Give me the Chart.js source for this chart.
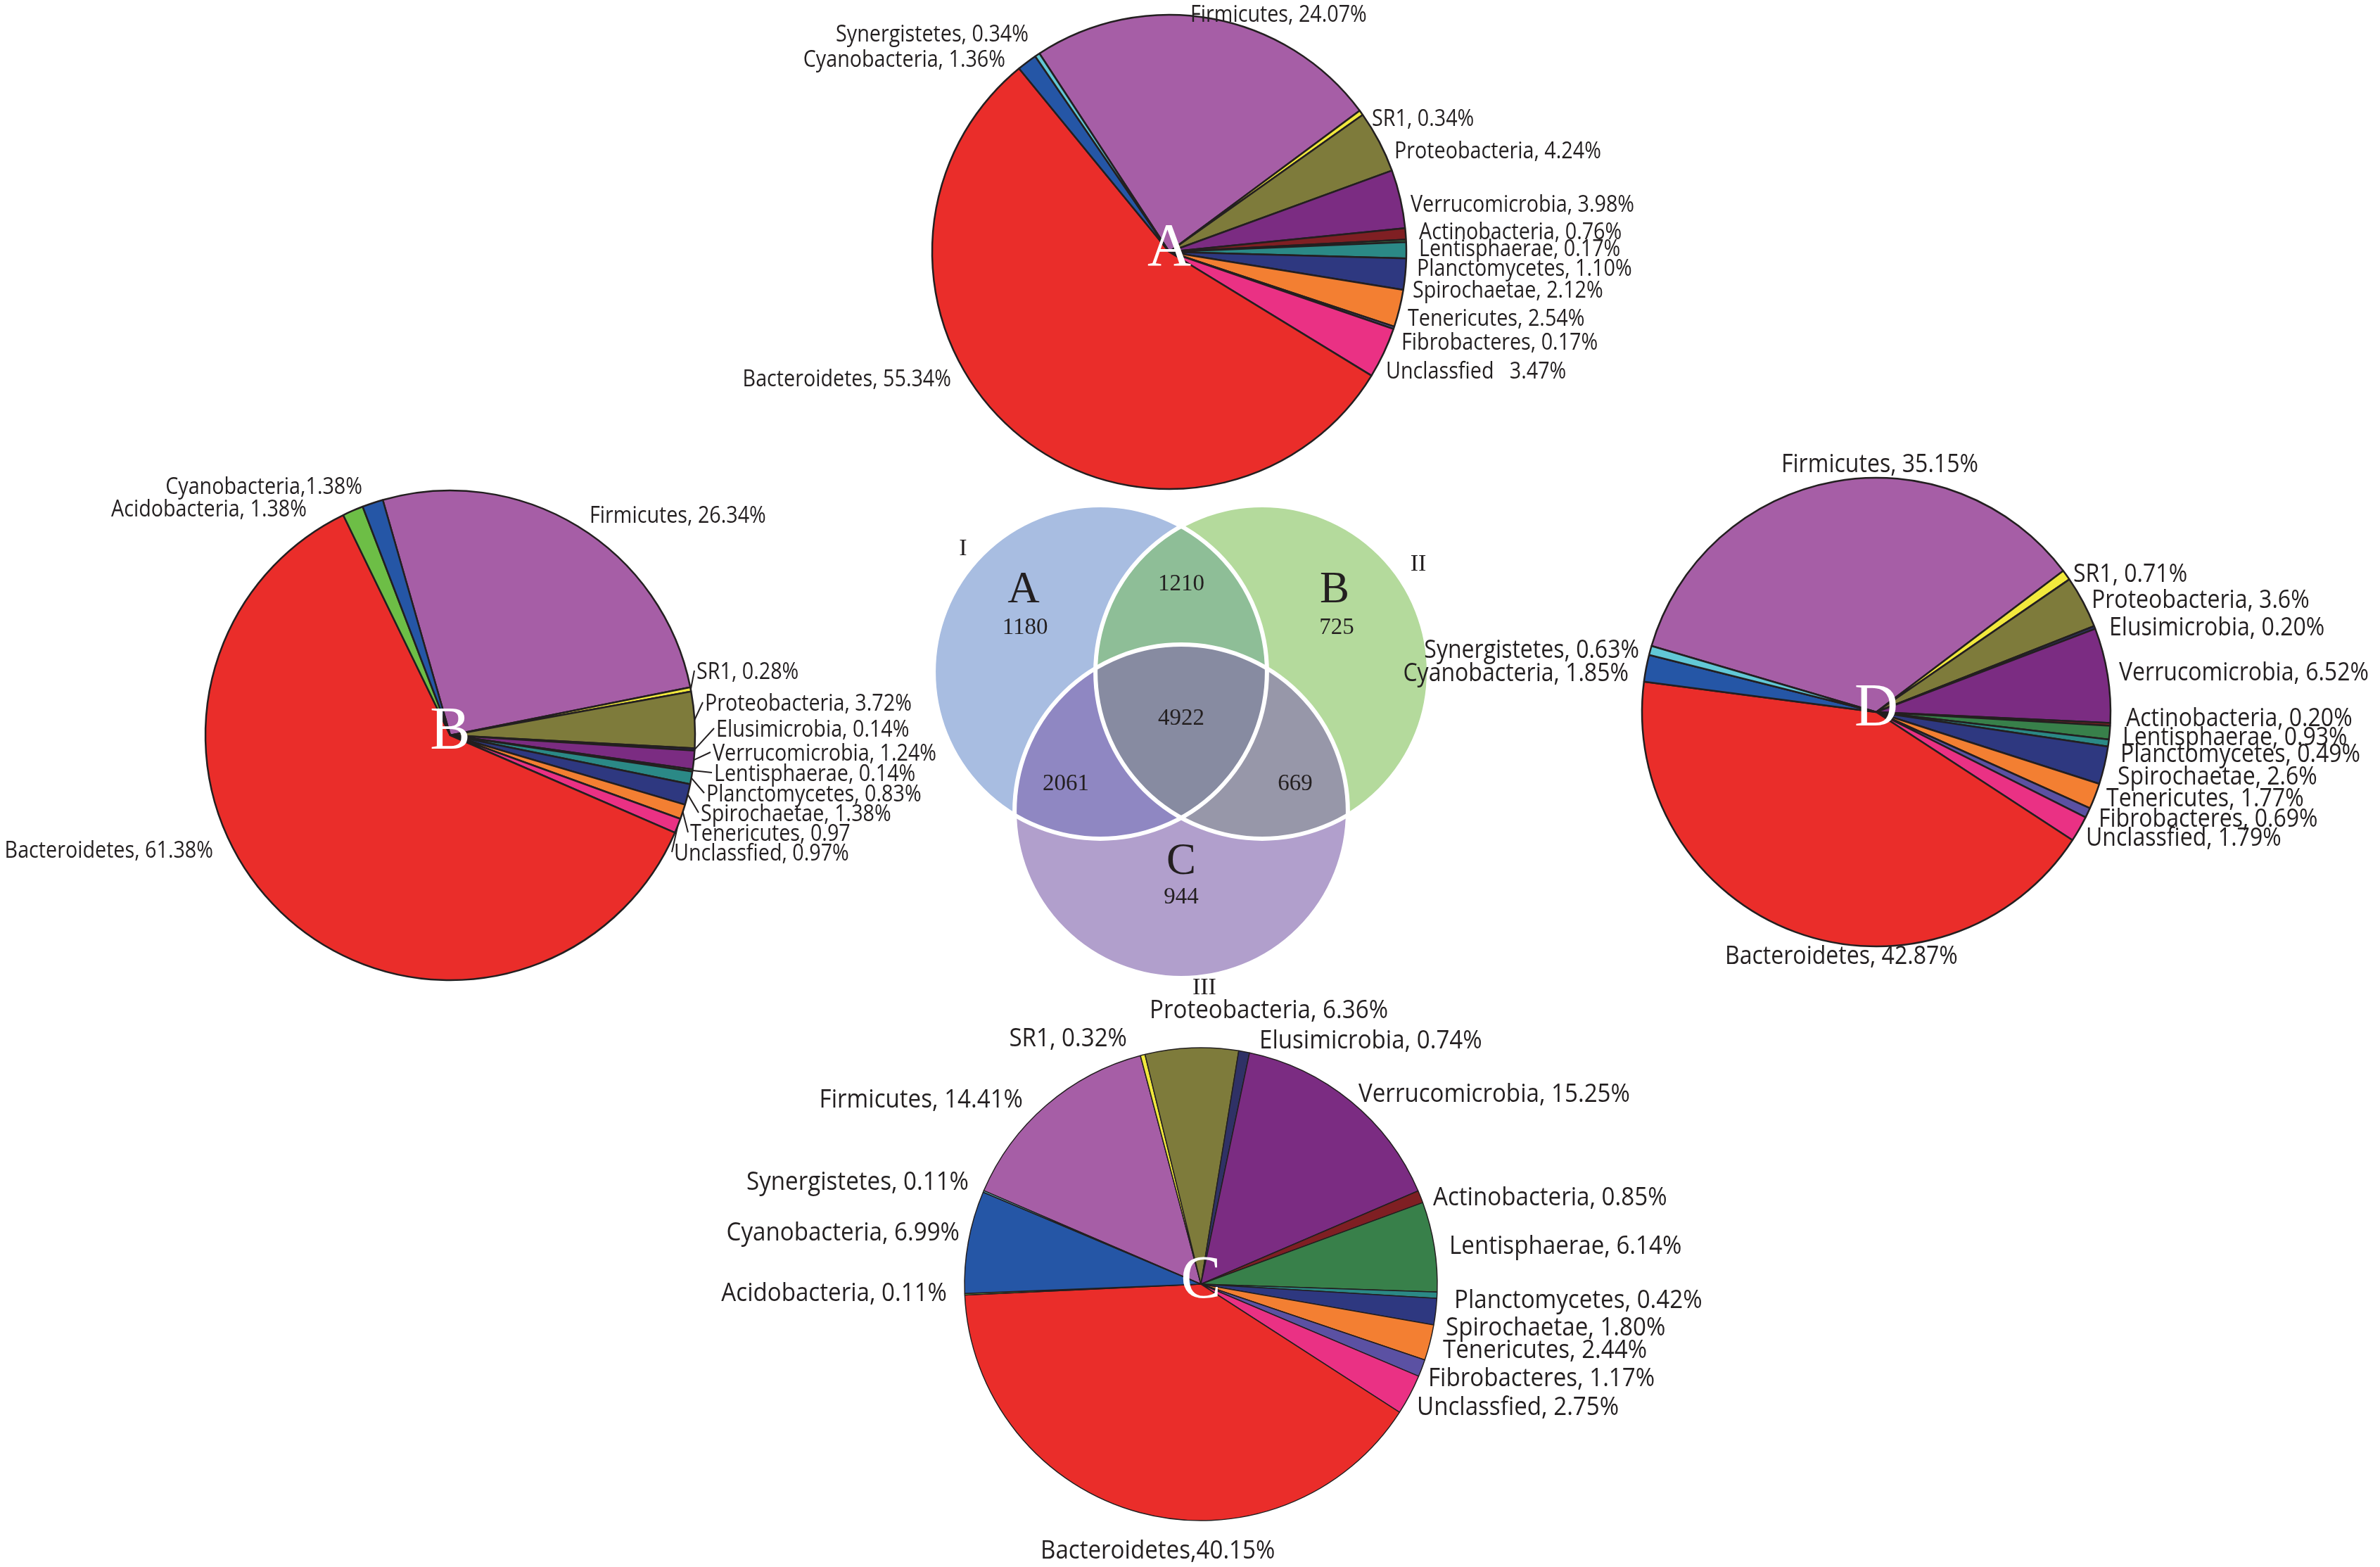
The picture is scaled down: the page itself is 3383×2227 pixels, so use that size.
<!DOCTYPE html>
<html lang="en">
<head>
    <meta charset="UTF-8" />
    <title>Phylum composition of samples A-D and shared OTUs</title>
    <script src="https://cdn.jsdelivr.net/npm/chart.js"></script>
    <style>
        body {
          margin: 0;
          background: #ffffff;
        }

        #figure {
          position: relative;
          width: 3383px;
          height: 2227px;
          overflow: hidden;
          background: #ffffff;
        }

        #figure canvas {
          position: absolute;
        }
    </style>
</head>
<body>

<div id="figure">
    <canvas id="venn"></canvas>
    <canvas id="pieA"></canvas>
    <canvas id="pieB"></canvas>
    <canvas id="pieC"></canvas>
    <canvas id="pieD"></canvas>
</div>

<script>
    // ---------- data ----------
    const phyla = ['Firmicutes', 'SR1', 'Proteobacteria', 'Elusimicrobia', 'Verrucomicrobia', 'Actinobacteria',
      'Lentisphaerae', 'Planctomycetes', 'Spirochaetae', 'Tenericutes', 'Fibrobacteres', 'Unclassified',
      'Bacteroidetes', 'Acidobacteria', 'Cyanobacteria', 'Synergistetes'];
    const phylumColors = ['#a65ea6', '#f2e93d', '#7e7b3b', '#2f3166', '#7b2c82', '#7f1f23',
      '#38804a', '#2b8986', '#2e3880', '#f37f32', '#5b51a3', '#ea3184',
      '#ea2d2a', '#6dbe46', '#2556a6', '#62c8d6'];

    // sample A
    const namesA = ['Firmicutes', 'SR1', 'Proteobacteria', 'Verrucomicrobia', 'Actinobacteria', 'Lentisphaerae',
      'Planctomycetes', 'Spirochaetae', 'Tenericutes', 'Fibrobacteres', 'Unclassified', 'Bacteroidetes',
      'Cyanobacteria', 'Synergistetes'];
    const valuesA = [24.07, 0.34, 4.24, 3.98, 0.76, 0.17, 1.10, 2.12, 2.54, 0.17, 3.47, 55.34, 1.36, 0.34];
    const textA = ['Firmicutes, 24.07%', 'SR1, 0.34%', 'Proteobacteria, 4.24%', 'Verrucomicrobia, 3.98%',
      'Actinobacteria, 0.76%', 'Lentisphaerae, 0.17%', 'Planctomycetes, 1.10%', 'Spirochaetae, 2.12%',
      'Tenericutes, 2.54%', 'Fibrobacteres, 0.17%', 'Unclassfied   3.47%', 'Bacteroidetes, 55.34%',
      'Cyanobacteria, 1.36%', 'Synergistetes, 0.34%'];

    // sample B
    const namesB = ['Firmicutes', 'SR1', 'Proteobacteria', 'Elusimicrobia', 'Verrucomicrobia', 'Lentisphaerae',
      'Planctomycetes', 'Spirochaetae', 'Tenericutes', 'Unclassified', 'Bacteroidetes', 'Acidobacteria',
      'Cyanobacteria'];
    const valuesB = [26.34, 0.28, 3.72, 0.14, 1.24, 0.14, 0.83, 1.38, 0.97, 0.97, 61.38, 1.38, 1.38];
    const textB = ['Firmicutes, 26.34%', 'SR1, 0.28%', 'Proteobacteria, 3.72%', 'Elusimicrobia, 0.14%',
      'Verrucomicrobia, 1.24%', 'Lentisphaerae, 0.14%', 'Planctomycetes, 0.83%', 'Spirochaetae, 1.38%',
      'Tenericutes, 0.97', 'Unclassfied, 0.97%', 'Bacteroidetes, 61.38%', 'Acidobacteria, 1.38%',
      'Cyanobacteria,1.38%'];

    // sample C
    const namesC = ['Firmicutes', 'SR1', 'Proteobacteria', 'Elusimicrobia', 'Verrucomicrobia', 'Actinobacteria',
      'Lentisphaerae', 'Planctomycetes', 'Spirochaetae', 'Tenericutes', 'Fibrobacteres', 'Unclassified',
      'Bacteroidetes', 'Acidobacteria', 'Cyanobacteria', 'Synergistetes'];
    const valuesC = [14.41, 0.32, 6.36, 0.74, 15.25, 0.85, 6.14, 0.42, 1.80, 2.44, 1.17, 2.75, 40.15, 0.11, 6.99, 0.11];
    const textC = ['Firmicutes, 14.41%', 'SR1, 0.32%', 'Proteobacteria, 6.36%', 'Elusimicrobia, 0.74%',
      'Verrucomicrobia, 15.25%', 'Actinobacteria, 0.85%', 'Lentisphaerae, 6.14%', 'Planctomycetes, 0.42%',
      'Spirochaetae, 1.80%', 'Tenericutes, 2.44%', 'Fibrobacteres, 1.17%', 'Unclassfied, 2.75%',
      'Bacteroidetes,40.15%', 'Acidobacteria, 0.11%', 'Cyanobacteria, 6.99%', 'Synergistetes, 0.11%'];

    // sample D
    const namesD = ['Firmicutes', 'SR1', 'Proteobacteria', 'Elusimicrobia', 'Verrucomicrobia', 'Actinobacteria',
      'Lentisphaerae', 'Planctomycetes', 'Spirochaetae', 'Tenericutes', 'Fibrobacteres', 'Unclassified',
      'Bacteroidetes', 'Cyanobacteria', 'Synergistetes'];
    const valuesD = [35.15, 0.71, 3.6, 0.20, 6.52, 0.20, 0.93, 0.49, 2.6, 1.77, 0.69, 1.79, 42.87, 1.85, 0.63];
    const textD = ['Firmicutes, 35.15%', 'SR1, 0.71%', 'Proteobacteria, 3.6%', 'Elusimicrobia, 0.20%',
      'Verrucomicrobia, 6.52%', 'Actinobacteria, 0.20%', 'Lentisphaerae, 0.93%', 'Planctomycetes, 0.49%',
      'Spirochaetae, 2.6%', 'Tenericutes, 1.77%', 'Fibrobacteres, 0.69%', 'Unclassfied, 1.79%',
      'Bacteroidetes, 42.87%', 'Cyanobacteria, 1.85%', 'Synergistetes, 0.63%'];

    // Venn: OTU counts per region
    const vennSets = ['A', 'B', 'C'];
    const vennRoman = ['I', 'II', 'III'];
    const vennRegions = ['A', 'B', 'C', 'AB', 'AC', 'BC', 'ABC'];
    const vennCounts = [1180, 725, 944, 1210, 2061, 669, 4922];

    // ---------- layout (not data) ----------
    // label spots: [dx, dy from pie centre, align, leader line]
    const spotsA = [[30, -336, 'left'], [288, -188, 'left'], [320, -142, 'left'], [343, -66, 'left'],
      [355, -27, 'left'], [355, -3, 'left'], [352, 25, 'left'], [346, 56, 'left'], [339, 96, 'left'],
      [330, 130, 'left'], [308, 171, 'left'], [-310, 182, 'right'], [-233, -272, 'right'], [-200, -308, 'right']];
    const spotsB = [[198, -311, 'left'], [350, -89, 'left', 1], [362, -44, 'left', 1], [378, -7, 'left', 1],
      [373, 27, 'left', 1], [375, 56, 'left', 1], [364, 85, 'left', 1], [356, 113, 'left', 1],
      [341, 141, 'left', 1], [318, 169, 'left', 1], [-337, 165, 'right'], [-204, -320, 'right'], [-125, -352, 'right']];
    const spotsC = [[-253, -261, 'right'], [-105, -348, 'right'], [-73, -388, 'left'], [83, -345, 'left'],
      [224, -269, 'left'], [330, -122, 'left'], [353, -53, 'left'], [360, 24, 'left'], [348, 63, 'left'],
      [344, 95, 'left'], [323, 135, 'left'], [307, 176, 'left'], [-228, 380, 'left'], [-361, 14, 'right'],
      [-343, -72, 'right'], [-330, -144, 'right']];
    const spotsD = [[-135, -351, 'left'], [280, -195, 'left'], [306, -158, 'left'], [331, -119, 'left'],
      [345, -55, 'left'], [355, 10, 'left'], [350, 37, 'left'], [347, 61, 'left'], [343, 93, 'left'],
      [327, 124, 'left'], [316, 153, 'left'], [298, 180, 'left'], [-215, 348, 'left'], [-352, -54, 'right'],
      [-337, -87, 'right']];

    const vennCentres = { x: [-0.5, 0.5, 0], y: [0, 0, -0.861] };
    const vennR = 1.03;
    const vennColors = ['#a8bde1', '#b4da9c', '#b19fcc', '#8ebe97', '#8f87c2', '#9797a9', '#878ba1'];
    const vennCountSpots = [[-0.965, 0.274], [0.961, 0.274], [0, -1.391], [0, 0.543], [-0.713, -0.691], [0.704, -0.691], [0, -0.287]];
    const vennLetterSpots = [[-0.974, 0.504], [0.948, 0.504], [0, -1.174]];
    const vennRomanSpots = [[-1.348, 0.761], [1.465, 0.665], [0.143, -1.952]];

    const INK = '#231f20';
    const PW = 1600, PH = 900;

    function colorOf(name) {
      return phylumColors[phyla.indexOf(name)];
    }

    function stretchedText(ctx, str, x, y, align, font, sx) {
      ctx.save();
      ctx.translate(x, y);
      ctx.scale(sx, 1);
      ctx.font = font;
      ctx.textAlign = align;
      ctx.textBaseline = 'middle';
      ctx.fillText(str, 0, 0);
      ctx.restore();
    }

    // draws the phylum labels, leader lines and the big white letter
    const sliceLabels = {
      id: 'sliceLabels',
      afterDatasetsDraw(chart, args, opts) {
        const ctx = chart.ctx;
        const arcs = chart.getDatasetMeta(0).data;
        const cx = arcs[0].x, cy = arcs[0].y;
        ctx.save();
        ctx.fillStyle = INK;
        ctx.strokeStyle = INK;
        ctx.lineWidth = 2;
        arcs.forEach((arc, i) => {
          const s = opts.spots[i];
          const lx = cx + s[0], ly = cy + s[1];
          if (s[3]) {
            const mid = (arc.startAngle + arc.endAngle) / 2;
            ctx.beginPath();
            ctx.moveTo(cx + arc.outerRadius * Math.cos(mid), cy + arc.outerRadius * Math.sin(mid));
            ctx.lineTo(lx - 3, ly - 3);
            ctx.stroke();
          }
          stretchedText(ctx, opts.texts[i], lx, ly, s[2], opts.font, opts.sx);
        });
        ctx.fillStyle = '#ffffff';
        ctx.font = '86px "Liberation Serif", serif';
        ctx.textAlign = 'center';
        ctx.textBaseline = 'middle';
        ctx.fillText(opts.letter, cx, cy - 4);
        ctx.restore();
      }
    };

    function makePie(id, p) {
      const cv = document.getElementById(id);
      cv.width = PW;
      cv.height = PH;
      cv.style.left = (p.cx - PW / 2) + 'px';
      cv.style.top = (p.cy - PH / 2) + 'px';
      return new Chart(cv, {
        type: 'pie',
        data: {
          labels: p.names,
          datasets: [{
            data: p.values,
            backgroundColor: p.names.map(colorOf),
            borderColor: INK,
            borderWidth: p.border
          }]
        },
        options: {
          responsive: false,
          devicePixelRatio: 1,
          animation: false,
          events: [],
          rotation: p.rotation,
          radius: p.r,
          layout: { padding: 0 },
          plugins: {
            legend: { display: false },
            tooltip: { enabled: false },
            sliceLabels: { spots: p.spots, texts: p.texts, letter: p.letter, font: p.font, sx: p.sx }
          }
        },
        plugins: [sliceLabels]
      });
    }

    const fontAB = '33px "Open Sans", sans-serif';
    const fontCD = '36px "Open Sans", sans-serif';

    makePie('pieA', { cx: 1662, cy: 358, r: 337, rotation: -33.2, border: 2.5, names: namesA, values: valuesA,
      texts: textA, spots: spotsA, letter: 'A', font: fontAB, sx: 0.87 });
    makePie('pieB', { cx: 640, cy: 1045, r: 348, rotation: -16, border: 2.5, names: namesB, values: valuesB,
      texts: textB, spots: spotsB, letter: 'B', font: fontAB, sx: 0.87 });
    makePie('pieC', { cx: 1707, cy: 1825, r: 336, rotation: -66.7, border: 1.5, names: namesC, values: valuesC,
      texts: textC, spots: spotsC, letter: 'C', font: fontCD, sx: 0.92 });
    makePie('pieD', { cx: 2667, cy: 1012, r: 333, rotation: -73.6, border: 2.5, names: namesD, values: valuesD,
      texts: textD, spots: spotsD, letter: 'D', font: fontCD, sx: 0.89 });

    // ---------- Venn diagram ----------
    function circlePx(chart) {
      const sx = chart.scales.x;
      return Math.abs(sx.getPixelForValue(vennR) - sx.getPixelForValue(0));
    }

    const vennPaint = {
      id: 'vennPaint',
      beforeDatasetsDraw(chart) {
        const ctx = chart.ctx;
        const pts = chart.getDatasetMeta(0).data;
        const rad = circlePx(chart);
        vennRegions.forEach((region, k) => {
          ctx.save();
          vennSets.forEach((set, i) => {
            const inside = region.includes(set);
            ctx.beginPath();
            if (!inside) ctx.rect(0, 0, chart.width, chart.height);
            ctx.moveTo(pts[i].x + rad, pts[i].y);
            ctx.arc(pts[i].x, pts[i].y, rad, 0, Math.PI * 2);
            ctx.clip(inside ? 'nonzero' : 'evenodd');
          });
          ctx.fillStyle = vennColors[k];
          ctx.fillRect(0, 0, chart.width, chart.height);
          ctx.restore();
        });
      },
      afterDatasetsDraw(chart) {
        const ctx = chart.ctx;
        const xs = chart.scales.x, ys = chart.scales.y;
        const put = (str, spot, font) => {
          ctx.font = font;
          ctx.fillText(str, xs.getPixelForValue(spot[0]), ys.getPixelForValue(spot[1]));
        };
        ctx.save();
        ctx.fillStyle = INK;
        ctx.textAlign = 'center';
        ctx.textBaseline = 'middle';
        vennCounts.forEach((n, k) => put(String(n), vennCountSpots[k], '33px "Liberation Serif", serif'));
        vennSets.forEach((s, i) => put(s, vennLetterSpots[i], '63px "Liberation Serif", serif'));
        vennRoman.forEach((s, i) => put(s, vennRomanSpots[i], '34px "Liberation Serif", serif'));
        ctx.restore();
      }
    };

    const vc = document.getElementById('venn');
    vc.width = 900;
    vc.height = 800;
    vc.style.left = '1250px';
    vc.style.top = '650px';

    new Chart(vc, {
      type: 'scatter',
      data: {
        labels: vennSets,
        datasets: [{
          data: vennSets.map((s, i) => ({ x: vennCentres.x[i], y: vennCentres.y[i] })),
          pointRadius: (c) => circlePx(c.chart),
          pointHoverRadius: (c) => circlePx(c.chart),
          pointBackgroundColor: 'rgba(0,0,0,0)',
          pointBorderColor: '#ffffff',
          pointBorderWidth: 6,
          clip: false
        }]
      },
      options: {
        responsive: false,
        devicePixelRatio: 1,
        animation: false,
        events: [],
        layout: { padding: 0 },
        scales: {
          x: { type: 'linear', min: -1.8652, max: 2.0478, display: false },
          y: { type: 'linear', min: -2.1522, max: 1.3261, display: false }
        },
        plugins: {
          legend: { display: false },
          tooltip: { enabled: false }
        }
      },
      plugins: [vennPaint]
    });
</script>

</body>
</html>
